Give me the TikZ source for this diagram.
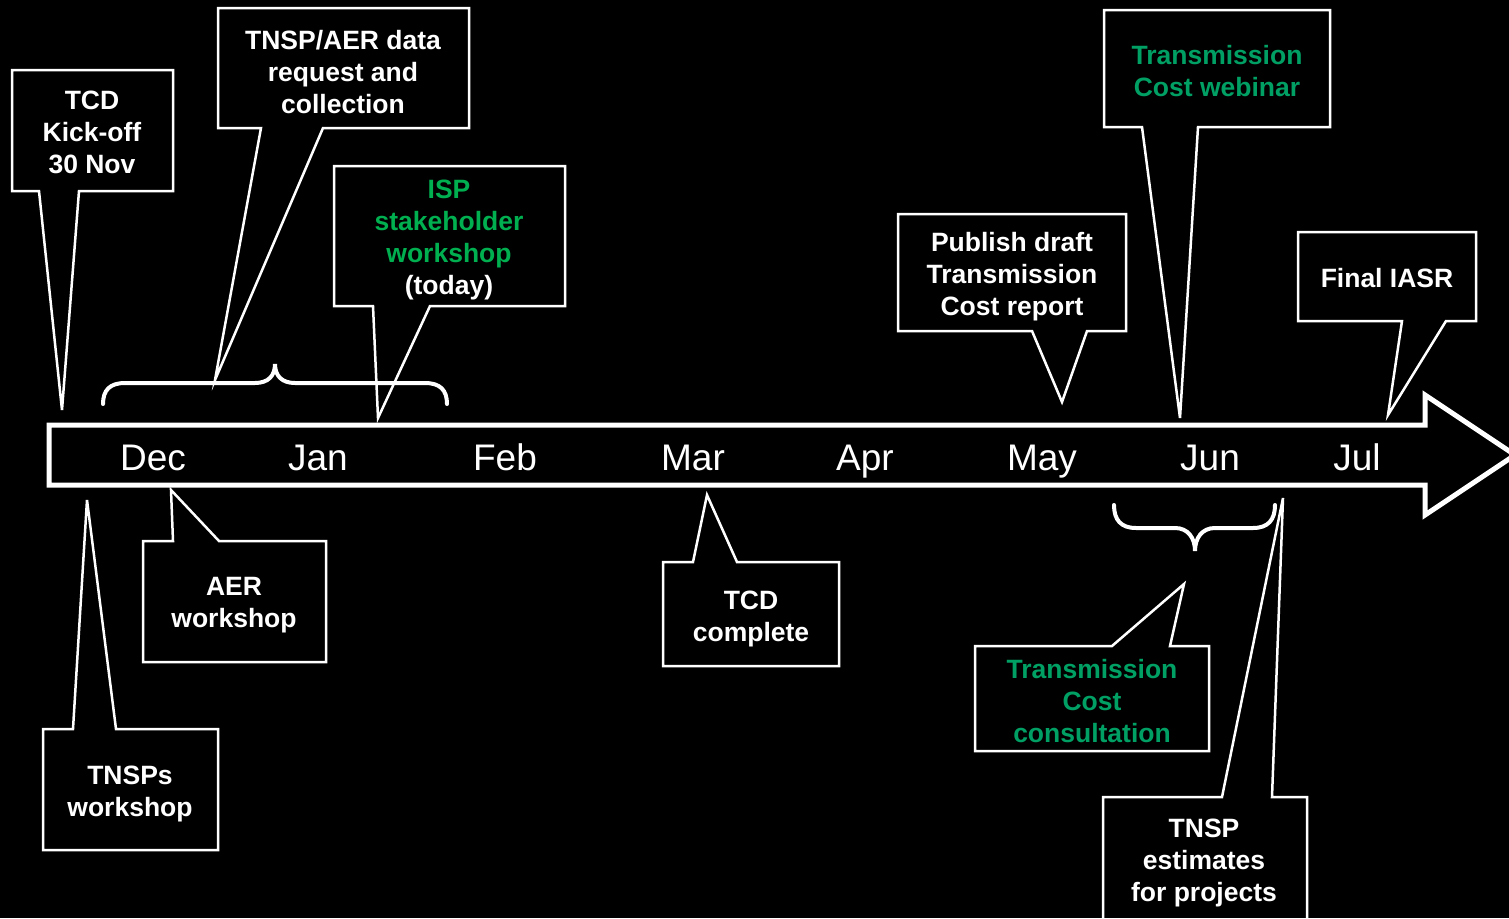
\documentclass[tikz,border=0pt]{standalone}
\usepackage{fontspec}
\setmainfont{Liberation Sans}
\definecolor{ispgreen}{HTML}{00B050}
\definecolor{tgreen}{HTML}{00A064}
\begin{document}
\begin{tikzpicture}[x=1pt,y=-1pt,
  callout/.style={draw=white,line width=2.5pt,line join=miter},
  brace/.style={draw=white,line width=4pt,line cap=round},
  lbl/.style={text=white,font=\fontsize{26.5}{32}\selectfont\bfseries,align=center,inner sep=0pt},
  month/.style={text=white,font=\fontsize{37}{40}\selectfont,inner sep=0pt,anchor=base}]
\fill[black] (0,0) rectangle (1509,918);
\useasboundingbox (0,0) rectangle (1509,918);
\begin{scope}
\clip (0,0) rectangle (1509,918);
% timeline arrow
\draw[white,line width=5pt,line join=miter] (49,425) -- (1425,425) -- (1425,395) -- (1515,455) -- (1425,515) -- (1425,485) -- (49,485) -- cycle;
% month labels
\node[month] (dec) at (153,470) {Dec};
\node[month] (jan) at (318,470) {Jan};
\node[month] (feb) at (505,470) {Feb};
\node[month] (mar) at (693,470) {Mar};
\node[month] (apr) at (865,470) {Apr};
\node[month] (may) at (1042,470) {May};
\node[month] (jun) at (1210,470) {Jun};
\node[month] (jul) at (1357,470) {Jul};
% braces
\draw[brace] (103,404) .. controls (103,390) and (110,383) .. (125,383) -- (255,383) .. controls (268,383) and (275,376) .. (275,364) .. controls (275,376) and (282,383) .. (295,383) -- (425,383) .. controls (440,383) and (447,390) .. (447,404);
\draw[brace] (1114,505) .. controls (1114,520) and (1121,528) .. (1136,528) -- (1175,528) .. controls (1188,528) and (1195,538) .. (1195,551) .. controls (1195,538) and (1202,528) .. (1215,528) -- (1253,528) .. controls (1268,528) and (1275,520) .. (1275,505);
% callouts above
\draw[callout] (12,70) -- (173,70) -- (173,191) -- (79,191) -- (62,410) -- (39,191) -- (12,191) -- cycle;
\node[lbl] (kick) at (92,132) {TCD\\Kick-off\\30 Nov};
\draw[callout] (218,8) -- (469,8) -- (469,128) -- (323,128) -- (215,380) -- (261,128) -- (218,128) -- cycle;
\node[lbl] (data) at (343,72) {TNSP/AER data\\request and\\collection};
\draw[callout] (334,166) -- (565,166) -- (565,306) -- (430,306) -- (378,418) -- (373,306) -- (334,306) -- cycle;
\node[lbl] (isp) at (449,240) {\textcolor{ispgreen}{ISP}\\\textcolor{ispgreen}{stakeholder}\\\textcolor{ispgreen}{workshop}\\(today)};
\draw[callout] (898,214) -- (1126,214) -- (1126,331) -- (1087,331) -- (1062,402) -- (1032,331) -- (898,331) -- cycle;
\node[lbl] (draft) at (1012,277) {Publish draft\\Transmission\\Cost report};
\draw[callout] (1104,10) -- (1330,10) -- (1330,127) -- (1198,127) -- (1180,418) -- (1142,127) -- (1104,127) -- cycle;
\node[lbl,text=tgreen] (webinar) at (1217,71) {Transmission\\Cost webinar};
\draw[callout] (1298,232) -- (1476,232) -- (1476,321) -- (1446,321) -- (1388,415) -- (1402,321) -- (1298,321) -- cycle;
\node[lbl] (iasr) at (1387,278) {Final IASR};
% callouts below
\draw[callout] (143,541) -- (173,541) -- (171,490) -- (219,541) -- (326,541) -- (326,662) -- (143,662) -- cycle;
\node[lbl] (aer) at (234,605) {AER\\workshop};
\draw[callout] (43,729) -- (73,729) -- (87,500) -- (116,729) -- (218,729) -- (218,850) -- (43,850) -- cycle;
\node[lbl] (tnsps) at (130,794) {TNSPs\\workshop};
\draw[callout] (663,562) -- (693,562) -- (707,495) -- (737,562) -- (839,562) -- (839,666) -- (663,666) -- cycle;
\node[lbl] (tcdc) at (751,619) {TCD\\complete};
\draw[callout] (975,646) -- (1112,646) -- (1184,584) -- (1170,646) -- (1209,646) -- (1209,751) -- (975,751) -- cycle;
\node[lbl,text=tgreen] (consult) at (1092,701) {Transmission\\Cost\\consultation};
\draw[callout] (1103,797) -- (1222,797) -- (1283,498) -- (1272,797) -- (1307,797) -- (1307,940) -- (1103,940) -- cycle;
\node[lbl] (est) at (1204,863) {TNSP\\estimates\\for projects};
\end{scope}
\end{tikzpicture}
\end{document}
